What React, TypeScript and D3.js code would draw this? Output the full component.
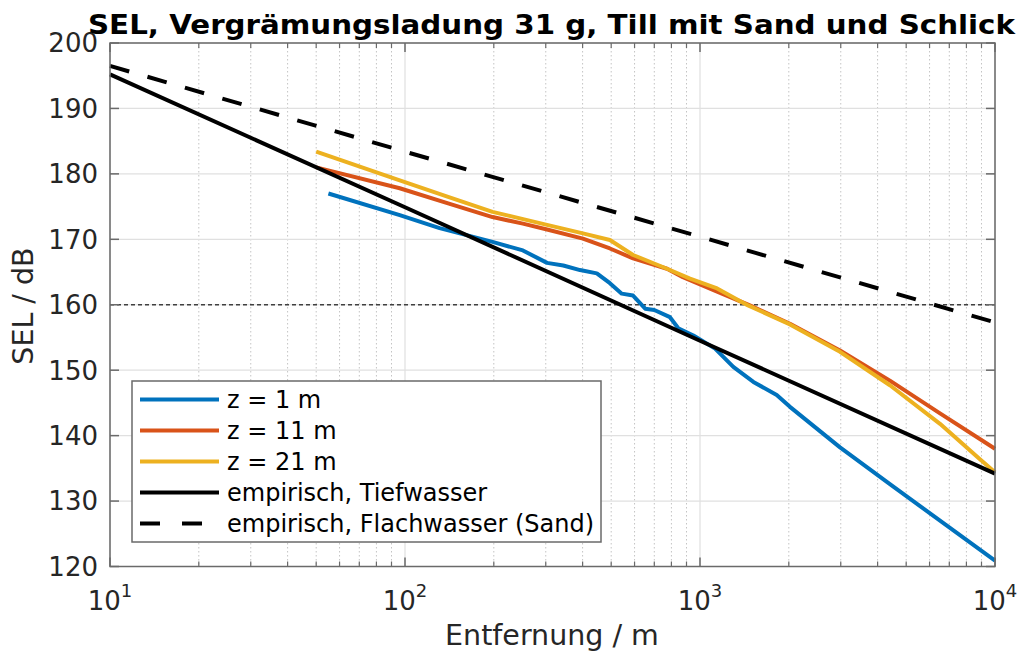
import React from "react";
import * as d3 from "d3";

const title = "SEL, Vergrämungsladung 31 g, Till mit Sand und Schlick";
const xLabel = "Entfernung / m";
const yLabel = "SEL / dB";
const yTicks = [120, 130, 140, 150, 160, 170, 180, 190, 200];
const xTickExps = [1, 2, 3, 4];
const refLevel = 160;

// distance (m), SEL (dB)
const blueR = [55, 96, 131, 198, 251, 303, 344, 392, 447, 495, 543, 593, 652, 700, 791, 844, 950, 1125, 1297, 1517, 1820, 2018, 2983, 4403, 6510, 10000];
const blueV = [177.0, 173.7, 171.7, 169.6, 168.3, 166.4, 166.0, 165.3, 164.8, 163.3, 161.7, 161.4, 159.4, 159.2, 158.1, 156.4, 155.3, 153.3, 150.5, 148.2, 146.2, 144.4, 138.2, 132.6, 127.0, 120.9];

const redR = [50, 96, 140, 198, 251, 303, 401, 495, 593, 677, 773, 875, 1143, 1476, 2018, 2983, 4403, 6510, 10000];
const redV = [181.0, 177.8, 175.5, 173.4, 172.4, 171.5, 170.1, 168.6, 167.1, 166.3, 165.5, 164.2, 162.0, 159.9, 157.1, 153.0, 148.4, 143.4, 138.0];

const yelR = [50, 96, 140, 198, 303, 401, 495, 593, 773, 925, 1143, 1455, 2018, 2983, 4403, 6510, 8890, 10000];
const yelV = [183.4, 179.0, 176.5, 174.2, 172.2, 170.9, 169.9, 167.6, 165.5, 164.0, 162.5, 159.9, 157.0, 152.8, 147.7, 141.8, 136.4, 134.4];

const deepR = [10, 100, 1000, 10000];
const deepV = [195.2, 174.9, 154.5, 134.2];

const shallowR = [10, 100, 1000, 10000];
const shallowV = [196.5, 183.4, 170.4, 157.3];

const series = [
  { label: "z = 1 m", r: blueR, v: blueV, color: "#0072BD", dash: "" },
  { label: "z = 11 m", r: redR, v: redV, color: "#D95319", dash: "" },
  { label: "z = 21 m", r: yelR, v: yelV, color: "#EDB120", dash: "" },
  { label: "empirisch, Tiefwasser", r: deepR, v: deepV, color: "#000000", dash: "" },
  { label: "empirisch, Flachwasser (Sand)", r: shallowR, v: shallowV, color: "#000000", dash: "20,19" },
];

const L = 110, R = 995, T = 43, B = 566.5;
const FONT = "'DejaVu Sans', sans-serif";

export default function App() {
  const x = d3.scaleLog().domain([10, 10000]).range([L, R]);
  const y = d3.scaleLinear().domain([120, 200]).range([B, T]);
  const line = d3.line<[number, number]>().x((d) => x(d[0])).y((d) => y(d[1]));

  const minorX: number[] = [];
  for (let e = 1; e <= 3; e++) for (let k = 2; k <= 9; k++) minorX.push(k * Math.pow(10, e));
  const majorX = xTickExps.map((e) => Math.pow(10, e));

  const axisColor = "#6a6a6a";
  const textColor = "#262626";

  return (
    <svg width={1020} height={652} style={{ position: "absolute", left: 0, top: 0, background: "#fff" }} fontFamily={FONT}>
      <rect x={0} y={0} width={1020} height={652} fill="#fff" />
      {/* grid */}
      {minorX.map((v) => (
        <line key={"mx" + v} x1={x(v)} x2={x(v)} y1={T} y2={B} stroke="#c4c4c4" strokeWidth={1} strokeDasharray="1.5,2.5" />
      ))}
      {majorX.map((v) => (
        <line key={"Mx" + v} x1={x(v)} x2={x(v)} y1={T} y2={B} stroke="#e0e0e0" strokeWidth={1.2} />
      ))}
      {yTicks.map((v) => (
        <line key={"gy" + v} x1={L} x2={R} y1={y(v)} y2={y(v)} stroke="#e0e0e0" strokeWidth={1.2} />
      ))}
      <line x1={L} x2={R} y1={y(refLevel)} y2={y(refLevel)} stroke="#404040" strokeWidth={1.3} strokeDasharray="4,3" />

      {/* data */}
      {series.map((s) => (
        <path
          key={s.label}
          d={line(s.r.map((r, i) => [r, s.v[i]] as [number, number])) || ""}
          fill="none"
          stroke={s.color}
          strokeWidth={4}
          strokeDasharray={s.dash || undefined}
          strokeLinejoin="round"
        />
      ))}

      {/* axes box */}
      <rect x={L} y={T} width={R - L} height={B - T} fill="none" stroke={axisColor} strokeWidth={1.5} />
      {yTicks.map((v) => (
        <g key={"ty" + v}>
          <line x1={L} x2={L + 9} y1={y(v)} y2={y(v)} stroke={axisColor} strokeWidth={1.5} />
          <line x1={R} x2={R - 9} y1={y(v)} y2={y(v)} stroke={axisColor} strokeWidth={1.5} />
          <text x={98} y={y(v)} dy="0.36em" textAnchor="end" fontSize={26} fill={textColor}>{v}</text>
        </g>
      ))}
      {majorX.map((v) => (
        <g key={"tx" + v}>
          <line x1={x(v)} x2={x(v)} y1={B} y2={B - 9} stroke={axisColor} strokeWidth={1.5} />
          <line x1={x(v)} x2={x(v)} y1={T} y2={T + 9} stroke={axisColor} strokeWidth={1.5} />
        </g>
      ))}
      {minorX.map((v) => (
        <g key={"tmx" + v}>
          <line x1={x(v)} x2={x(v)} y1={B} y2={B - 5} stroke={axisColor} strokeWidth={1.2} />
          <line x1={x(v)} x2={x(v)} y1={T} y2={T + 5} stroke={axisColor} strokeWidth={1.2} />
        </g>
      ))}
      {xTickExps.map((e) => (
        <text key={"xl" + e} x={x(Math.pow(10, e))} y={610} textAnchor="middle" fontSize={26} fill={textColor}>
          10
          <tspan dy={-13} fontSize={18}>{e}</tspan>
        </text>
      ))}

      {/* labels */}
      <text x={552} y={645} textAnchor="middle" fontSize={28.5} fill={textColor}>{xLabel}</text>
      <text transform="translate(33,306) rotate(-90)" textAnchor="middle" fontSize={28.5} fill={textColor}>{yLabel}</text>
      <text x={551.5} y={34} textAnchor="middle" fontSize={27} fontWeight="bold" fill="#000" textLength={927} lengthAdjust="spacingAndGlyphs">{title}</text>

      {/* legend */}
      <rect x={132} y={381} width={469} height={161} fill="#fff" stroke={axisColor} strokeWidth={1.5} />
      {series.map((s, i) => {
        const yy = 399.5 + i * 31;
        return (
          <g key={"lg" + i}>
            <line x1={140} x2={s.dash ? 202 : 219} y1={yy} y2={yy} stroke={s.color} strokeWidth={4} strokeDasharray={s.dash ? "20,22" : undefined} />
            <text x={227} y={yy} dy="0.36em" fontSize={24} fill="#000">{s.label}</text>
          </g>
        );
      })}
    </svg>
  );
}
